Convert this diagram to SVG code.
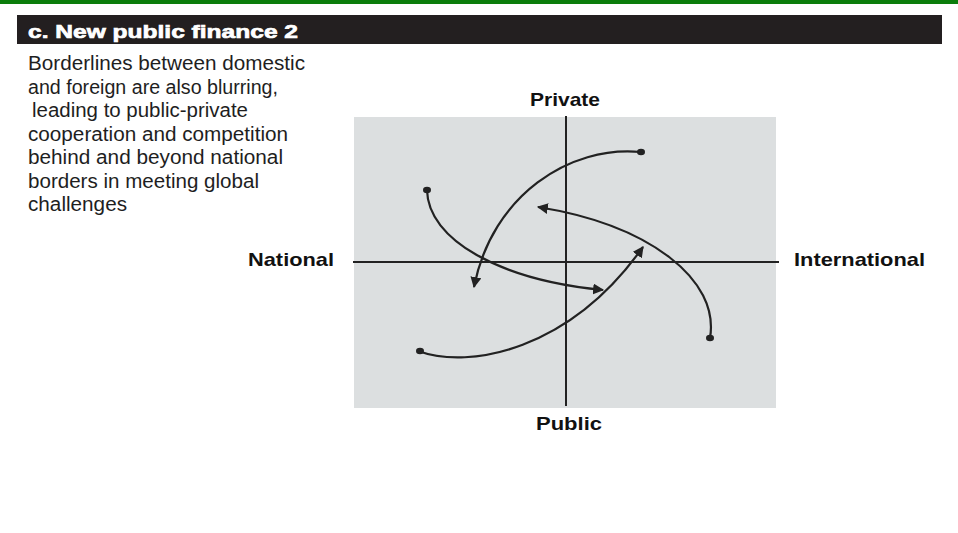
<svg xmlns="http://www.w3.org/2000/svg" width="958" height="533" viewBox="0 0 958 533">
  <style>
    .body { font-family: "Liberation Sans", Arial, sans-serif; font-size: 19.5px; fill: #1e1e1e; }
    .axislbl { font-family: "Liberation Sans", Arial, sans-serif; font-size: 19px; font-weight: bold; fill: #111; }
    .title { font-family: "Liberation Sans", Arial, sans-serif; font-size: 19px; font-weight: bold; fill: #fff; stroke: #fff; stroke-width: 0.7px; }
    .axis { stroke: #222; stroke-width: 2; fill: none; }
    .flow { stroke: #222; stroke-width: 2.2; fill: none; }
    .dot { fill: #222; }
  </style>
  <defs>
    <marker id="arrow" viewBox="0 0 10 10" refX="9" refY="5" markerWidth="5" markerHeight="5" orient="auto" markerUnits="strokeWidth">
      <path d="M0,0 L10,5 L0,10 Z" fill="#222"/>
    </marker>
  </defs>

  <!-- page background and top rule -->
  <rect x="0" y="0" width="958" height="533" fill="#ffffff"/>
  <rect x="0" y="0" width="958" height="4" fill="#0b7d0b"/>

  <!-- section heading -->
  <g id="heading">
    <rect x="17" y="15" width="925" height="29" fill="#231f20"/>
    <text class="title" x="28" y="38" textLength="270" lengthAdjust="spacingAndGlyphs">c. New public finance 2</text>
  </g>

  <!-- description -->
  <g id="description">
    <text class="body" x="28" y="70" textLength="277" lengthAdjust="spacingAndGlyphs">Borderlines between domestic</text>
    <text class="body" x="28" y="93.5" textLength="250" lengthAdjust="spacingAndGlyphs">and foreign are also blurring,</text>
    <text class="body" x="32" y="117" textLength="216" lengthAdjust="spacingAndGlyphs">leading to public-private</text>
    <text class="body" x="28" y="140.5" textLength="260" lengthAdjust="spacingAndGlyphs">cooperation and competition</text>
    <text class="body" x="28" y="164" textLength="255" lengthAdjust="spacingAndGlyphs">behind and beyond national</text>
    <text class="body" x="28" y="187.5" textLength="231" lengthAdjust="spacingAndGlyphs">borders in meeting global</text>
    <text class="body" x="28" y="211" textLength="99" lengthAdjust="spacingAndGlyphs">challenges</text>
  </g>

  <!-- quadrant chart -->
  <g id="chart">
    <rect x="354" y="117" width="422" height="291" fill="#dcdfe0"/>
    <line class="axis" x1="353" y1="262" x2="779" y2="262"/>
    <line class="axis" x1="566" y1="116" x2="566" y2="406"/>
  </g>

  <g id="label-private"><text class="axislbl" x="530" y="106" textLength="70" lengthAdjust="spacingAndGlyphs">Private</text></g>
  <g id="label-public"><text class="axislbl" x="536" y="430" textLength="66" lengthAdjust="spacingAndGlyphs">Public</text></g>
  <g id="label-national"><text class="axislbl" x="248" y="266" textLength="86" lengthAdjust="spacingAndGlyphs">National</text></g>
  <g id="label-international"><text class="axislbl" x="794" y="266" textLength="131" lengthAdjust="spacingAndGlyphs">International</text></g>

  <!-- swirling flows between the quadrants -->
  <g id="connectors">
    <path class="flow" d="M641,152 C570,145 492,195 474,287" marker-end="url(#arrow)"/>
    <path class="flow" d="M427,190 C428,240 500,280 603,290" marker-end="url(#arrow)"/>
    <path class="flow" d="M418,351 C470,370 570,350 643,247" marker-end="url(#arrow)"/>
    <path class="flow" d="M710,338 C720,280 650,225 538,207" marker-end="url(#arrow)"/>
    <ellipse class="dot" cx="641" cy="152" rx="4" ry="3.2"/>
    <ellipse class="dot" cx="427" cy="190" rx="4" ry="3.2"/>
    <ellipse class="dot" cx="420" cy="351" rx="4" ry="3.2"/>
    <ellipse class="dot" cx="710" cy="338" rx="4" ry="3.2"/>
  </g>
</svg>
